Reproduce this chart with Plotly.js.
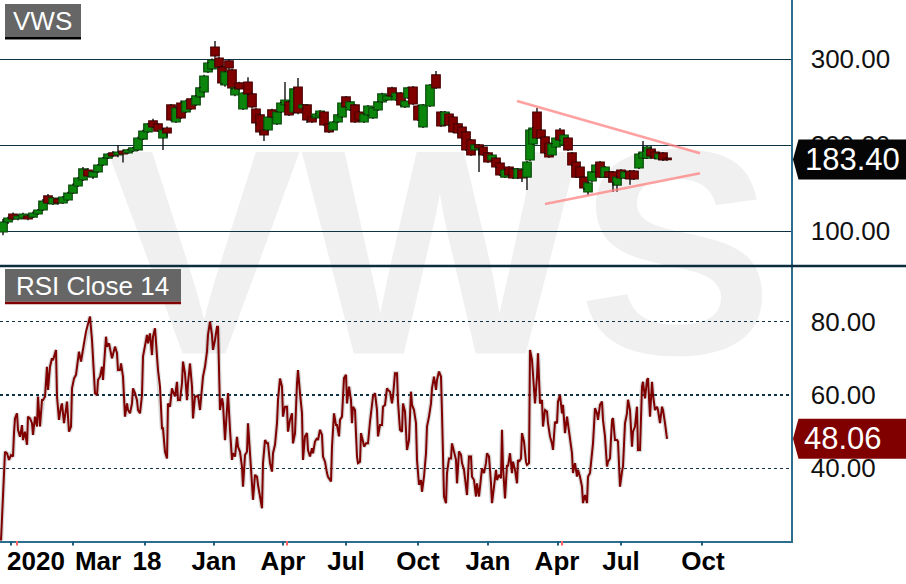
<!DOCTYPE html>
<html>
<head>
<meta charset="utf-8">
<script src="https://cdn.plot.ly/plotly-3.0.1.min.js"></script>
<style>html,body{margin:0;padding:0;background:#fff;}#chart{width:906px;height:584px;}</style>
</head>
<body>
<div id="chart"></div>
<script>
// ---- Data (x = trading-day index from start of chart) ----
const candleDay = [3,8,13,18,23,28,33,38,43,48,53,58,63,68,73,78,83,88,93,98,103,108,113,118,123,128,133,138,143,148,153,158,163,167,171,176,181,186,191,196,200,204,208,212,215,219,222,225,229,232,235,239,243,248,252,256,260,264,268,272,277,281,285,289,294,298,303,307,312,316,320,324,329,333,338,342,346,350,355,359,364,368,373,378,382,387,392,396,401,405,408,413,418,423,430,436,441,445,449,453,458,462,466,471,475,479,483,488,492,496,500,505,509,513,518,522,527,530,533,537,541,545,549,552,556,560,564,568,572,576,580,584,588,592,596,600,605,609,613,617,621,625,630,634,639,643,647,651,655,659,663,667];
const candleOpen = [99.2,110.8,120.1,114.3,115.5,117.8,116.6,120.1,124.8,141.1,131.8,137.6,132.9,136.4,144.5,152.7,159.7,171.3,163.1,169,177.1,185.2,191.1,188.7,193.4,191.1,193.4,194.6,207.3,215.5,228.3,224.8,208.5,220.1,246.9,227.1,249.2,238.7,253.9,246.9,256.2,262,285.3,288.8,314.3,301.5,291.1,270.1,298.1,287.6,258.5,272.5,242.2,273.6,259.7,242.2,235.3,217.8,217.8,241.1,224.8,238.7,246.9,250.4,238.7,267.8,243.4,246.9,232.9,231.8,234.1,238.7,224.8,217.8,227.1,232.9,256.2,241.1,246.9,238.7,227.1,235.3,231.8,241.1,250.4,252.7,266.7,252.7,260.8,244.6,255,267.8,245.7,221.3,245.7,281.8,238.7,223.6,236.4,232.9,224.8,221.3,215.5,206.2,194.6,200.4,198,191.1,182.9,185.2,179.4,163.1,174.8,172.5,162,171.3,163.1,182.9,201.5,238.7,217.8,209.7,202.7,188.7,198,217.8,200.4,208.5,191.1,180.6,174.8,163.1,145.7,158.5,169,180.6,163.1,169,169,153.8,171.3,162,170.1,170.1,173.6,185.2,185.2,195.7,192.2,184.1,191.1,185.2];
const candleHigh = [114.3,117,122,119,121.5,119.5,123,126,137.5,143.4,140,139,141.1,146,155.5,163.1,174.8,173.6,170.1,178.3,186.4,191.1,193.4,200.4,195,196,198,210,218,226,231,226,220,222,248,245,252,253,255,258.5,268,282,297,301,321.3,303,293,287,300,289,268,274,262,279,261,243.5,237,219,234,242.5,240,250.4,273.6,252,267,278.3,248,248,234,237.6,241.1,240,226,228.3,236.4,250.4,257.4,251.5,248,240,237.6,247,244.6,251.5,261,258.5,268,262,262,252.7,268,269,247,248,271.3,286.5,240,240,237.6,234,226,222.4,216.6,207.3,201.5,201.5,199.2,192.2,189.9,186.4,180.6,172.5,176,173.6,173.6,172.5,181.8,219,221.3,243.4,219,211,204,202.7,209.7,220.1,213.2,209.7,192.2,181.8,176,164.3,157.3,170.1,178.3,181.8,176,170.1,170.1,164.3,172.5,170.1,171.3,171.3,191.1,205,199.2,199,194,192,192.2,186.4];
const candleLow = [95.5,108.5,113,113,114.5,113,115.5,119,123.5,131.8,130.6,131,131.8,135.2,143.4,151.5,158.5,163.1,160.8,167.8,176,184.1,186.4,186,180,189.9,192.2,193.4,206.2,214.3,220.1,215.5,194.6,210,228,226,230.6,237.6,241.1,245.7,255,260.8,284,287.6,302,289.9,271,268,288,265,257,264,241,258,243,224,214,205,216,231.8,223.6,237.6,245.7,234,237,236,242.2,226,225.9,230.6,233,222.4,214.3,216.6,226,231.8,243.4,240,226,228.3,226,234.1,230.6,240,249.2,251.5,256.2,251.5,245.7,243.4,253.9,246.9,228.3,220.1,244.6,265.5,221.3,222.4,222.4,214.3,213.2,207.3,193.4,187.6,193.4,169,187.6,179.4,181.8,173.6,164.3,162,164.3,160.8,160.8,157.3,148,181.8,200.4,207.3,207.3,190,185.2,187.6,196.9,205,199.2,193.4,176,162,162,148,142,157.3,167.8,162,162,162,145.7,146,160.8,160.8,154,159.7,172.5,184,184.1,186.4,184.1,183,181.8,182];
const candleClose = [110.8,115.5,114.3,117.8,120.1,114.3,121.3,124.8,135.2,132.9,138.7,132.9,139.9,144.5,153.8,162,172.5,164.3,169,177.1,185.2,189.9,187.6,192.2,189.9,194.6,196.9,208.5,216.6,224.8,221.3,216.6,217.8,214.3,229.4,243.4,231.8,251.5,242.2,257.4,266.7,280.6,295.7,299.2,303.9,291.1,272.5,285.3,289.9,266.7,266.7,265.5,260.8,259.7,244.6,226,215.5,212,232.9,232.9,238.7,249.2,252.7,235.3,265.5,237.6,246.9,229.4,227.1,236.4,239.9,223.6,215.5,227.1,235.3,249.2,244.6,250.4,227.1,229.4,236.4,245.7,243.4,250.4,259.7,257.4,257.4,260.8,246.9,251.5,266.7,248,229.4,246.9,270.1,266.7,222.5,238.7,223.6,215.5,214.3,208.5,194.6,188.7,200.4,196.9,188.7,180.6,188.7,174.8,165.5,171.3,165.5,162,172.5,162,180.6,217.8,220.1,208.5,208.5,191.1,186.4,201.5,208.5,206.2,212,194.6,177.1,163.1,163.1,150.4,156.2,169,177.1,163.1,174.8,163.1,157.3,163.1,162,169,160.8,160.8,189.9,192.2,198,187.6,185.2,189.9,182.9,183.4];

const rsiDay = [1,2,3,5,7,9,11,13,14,15,17,18,20,22,23,25,27,28,30,32,33,35,37,38,40,42,43,45,47,48,50,52,53,56,57,59,61,62,64,66,67,69,71,72,74,76,78,79,81,83,84,86,88,90,92,93,95,97,98,100,102,103,106,107,109,112,113,115,117,118,120,121,123,124,125,127,128,130,132,133,135,137,138,140,142,143,145,147,148,150,152,153,155,157,158,160,162,163,165,167,168,170,172,173,175,177,178,180,182,183,185,187,188,190,192,193,195,197,198,200,202,203,205,207,208,210,212,213,215,217,218,220,222,223,225,227,228,230,232,233,235,237,238,240,242,243,245,247,248,250,252,253,255,257,258,260,262,263,265,267,268,270,272,273,275,277,278,280,282,283,285,287,288,290,292,293,295,297,298,300,302,303,305,307,308,310,312,313,315,317,318,320,322,323,325,327,328,331,332,334,336,337,339,340,342,344,346,347,349,351,352,353,355,357,358,360,361,363,364,366,368,370,372,373,375,377,378,380,382,383,385,387,388,390,392,393,395,397,398,400,402,403,405,406,407,409,411,412,414,416,417,419,421,422,424,426,427,429,431,432,434,436,437,439,441,442,444,446,447,449,451,452,454,456,457,459,461,462,464,466,467,469,471,472,474,476,477,479,481,482,484,486,487,489,491,492,494,496,497,499,501,502,503,505,507,508,510,512,513,515,517,518,519,521,522,524,526,527,529,530,532,533,535,537,538,540,542,543,545,547,548,550,552,553,555,557,558,560,562,563,565,567,568,570,572,573,575,577,578,580,582,583,585,587,588,590,592,593,595,597,598,600,602,603,605,607,608,610,612,613,615,617,618,620,622,623,625,627,628,630,632,633,635,637,638,640,642,643,645,647,648,650,652,653,655,657,658,660,662,663,665,667];
const rsiValue = [20.3,26.4,30.5,44.5,44.1,42.3,43.6,43.2,49.6,53.6,55,50.5,48.6,51.8,47.7,50,46.4,54.1,53.6,52.3,49.1,54.1,51.4,59.6,51.4,58.6,58.6,59.6,67.7,61.4,67.7,70,69.5,72.3,59.6,53.2,56.8,57.7,52.3,55.5,58.2,50,51.4,61.8,64.5,65.5,69.1,71.8,69.1,71.8,74.1,77.3,79.6,81.4,75,68.6,60.5,60,64.1,65,67.7,64.1,75.9,73.2,74.1,70,71.4,73.2,71.4,66.8,66.8,68.6,65,59.6,54.1,57.7,55.9,55,57.7,61.8,60.5,58.6,55.9,55,60,70.5,73.2,76.4,74.1,76.8,70.9,75.9,78.2,70,66.8,62.3,50.9,50.9,44.5,42.7,57.7,56.8,61.8,60.9,59.6,63.6,58.6,58.6,63.2,69.1,65.9,58.6,63.2,68.6,62.3,53.6,59.6,59.6,60,55.9,61.8,65,67.7,71.8,76.4,80,76.4,72.3,75,78.6,78.6,55.9,59.1,57.7,47.7,55.9,60.5,50.5,42.3,44.1,43.2,48.6,45.9,44.5,40.4,35,43.6,44.5,52.3,44.1,36.8,31.4,38.2,37.7,35.5,32.3,29.1,41.4,47.7,46.8,46.8,41.4,39.1,44.1,46.4,52.3,58.6,64.5,62.3,54.1,56.8,56.8,50,53.2,55,46.8,49.5,63.2,66.8,60.5,55,42.3,48.7,49.6,45,43.2,45.5,44.1,47.3,48.2,47.7,50.5,49.1,43.2,41.8,38.7,37.7,36.4,45.9,55,51.8,51.8,48.7,53.2,54.1,64.6,65.5,57.7,62.3,58.6,52.3,56.8,55.9,43.2,41.4,41.8,49.6,47.3,45.9,46.8,46.8,52.7,57.3,59.6,60.5,55.9,48.7,51.8,51.8,56.8,57.3,61.8,61.4,60.9,57.7,59.6,65.9,65.9,58.2,50.5,50,57.7,55.5,50,45,47.7,60.9,57.3,55.9,52.3,42.3,35.5,36.8,33.6,37.7,44.1,51.4,54.1,57.7,61.8,65,61.4,64.1,66.4,65,55,32.3,30.5,38.7,42.7,42.7,46.8,44.1,42.3,35.9,44.6,43.7,41.4,39.6,35.9,32.7,43.2,43.2,37.7,36.8,32.3,35.9,32.3,37.7,40,38.7,41.4,44.1,43.2,35.9,30.5,35,39.6,36.8,38.2,37.3,50.5,40.5,31.8,40.9,40.5,44.1,38.7,41.8,39.6,35.9,42.3,41.8,42.7,49.6,47.3,41.8,40.9,41.4,72.3,69.6,65.5,57.7,65,71.4,57.7,58.6,51.4,55.9,55.5,52.3,48.7,46.8,45,52.7,52.3,58.2,60,55,57.3,49.6,54.1,52.3,48.7,44.1,38.7,41.4,37.7,39.6,37.7,35,30.5,32.7,30.5,37.7,38.7,44.1,46.8,56.4,55,53.2,57.3,58.2,53.2,48.7,40.5,41.8,42.7,53.2,53.7,47.7,47.7,47.3,35,39.1,40.5,52.3,55,58.7,55.9,45.9,50,51.4,56.8,45,45,62.3,63.6,59.1,64.1,64.6,54.1,63.6,60,55.9,56.8,55.9,52.3,56.8,55.9,52.3,48.06];

const priceTicks = [100, 200, 300];
const rsiTicks = [40, 60, 80];
const axisTickDays = [11, 73, 145, 214, 283, 346, 418, 488, 558, 621, 702];
const axisLabelDays = [36, 98, 147, 214, 283, 346, 418, 488, 557, 621, 703];
const axisLabels = ['2020', 'Mar', '18', 'Jan', 'Apr', 'Jul', 'Oct', 'Jan', 'Apr', 'Jul', 'Oct'];
const eventDays = [17, 287, 562];
const trendUpperDays = [517, 700], trendUpperValues = [251.5, 190.7];
const trendLowerDays = [545, 700], trendLowerValues = [131.8, 167.5];

// ---- Styling / geometry ----
const FONT = 'Liberation Sans, Arial, Helvetica, sans-serif';
const PLOT_W = 791, PLOT_H = 541;
const priceRange = [59.65, 368.95];
const rsiRange = [20.16, 94.93];
const priceDomain = [0.5083, 1];
const rsiDomain = [0, 0.5065];
const pricePanelPx = (priceDomain[1] - priceDomain[0]) * PLOT_H;
const rsiPanelPx = (rsiDomain[1] - rsiDomain[0]) * PLOT_H;
const px2x = p => p / PLOT_W;
const py2y = p => (PLOT_H - p) / PLOT_H;

const UP_FILL = '#0b850b', UP_LINE = '#0a4a0a';
const DN_FILL = '#800000', DN_LINE = '#4a0000';

// candle bodies
const bodyBase = [], bodyLen = [], bodyFill = [], bodyLine = [];
const wickX = [], wickY = [];
for (let i = 0; i < candleDay.length; i++) {
  const o = candleOpen[i], c = candleClose[i], h = candleHigh[i], l = candleLow[i];
  const top = Math.max(o, c), bot = Math.min(o, c);
  bodyBase.push(bot);
  bodyLen.push(Math.max(top - bot, 0.8));
  const up = c >= o;
  bodyFill.push(up ? UP_FILL : DN_FILL);
  bodyLine.push(up ? UP_LINE : DN_LINE);
  if (h > top) { wickX.push(candleDay[i], candleDay[i], null); wickY.push(h, top, null); }
  if (l < bot) { wickX.push(candleDay[i], candleDay[i], null); wickY.push(bot, l, null); }
}

const traces = [
  { // watermark
    type: 'scatter', mode: 'text', xaxis: 'x', yaxis: 'y',
    x: [0.556], y: [0.482], text: ['VWS'], textposition: 'middle center',
    textfont: { family: FONT, size: 293, color: '#f0f0f0', weight: 'bold' },
    cliponaxis: false, hoverinfo: 'skip'
  },
  {
    type: 'scatter', mode: 'lines', xaxis: 'x2', yaxis: 'y2',
    x: wickX, y: wickY, line: { color: '#111', width: 1.4 }, hoverinfo: 'skip', connectgaps: false
  },
  {
    type: 'bar', xaxis: 'x2', yaxis: 'y2',
    x: candleDay, base: bodyBase, y: bodyLen, width: 8.5,
    marker: { color: bodyFill, line: { color: bodyLine, width: 1.2 } }, hoverinfo: 'skip'
  },
  {
    type: 'scatter', mode: 'lines', xaxis: 'x2', yaxis: 'y3',
    x: rsiDay, y: rsiValue, line: { color: 'rgba(110,110,110,0.28)', width: 4.5 }, hoverinfo: 'skip'
  },
  {
    type: 'scatter', mode: 'lines', xaxis: 'x2', yaxis: 'y3',
    x: rsiDay, y: rsiValue, line: { color: '#800000', width: 2 }, hoverinfo: 'skip'
  }
];

const lastClose = candleClose[candleClose.length - 1];
const lastRsi = rsiValue[rsiValue.length - 1];
const priceHalf = 20 * (priceRange[1] - priceRange[0]) / pricePanelPx;
const rsiHalf = 20 * (rsiRange[1] - rsiRange[0]) / rsiPanelPx;
const badge = (yc, h) => `M 1.0025,${yc} L 1.0095,${yc + h} L 1.2,${yc + h} L 1.2,${yc - h} L 1.0095,${yc - h} Z`;

const shapes = [];
// trend lines
shapes.push({ type: 'line', xref: 'x2', yref: 'y2', x0: trendUpperDays[0], y0: trendUpperValues[0], x1: trendUpperDays[1], y1: trendUpperValues[1], line: { color: 'rgba(255,130,130,0.75)', width: 2.5 } });
shapes.push({ type: 'line', xref: 'x2', yref: 'y2', x0: trendLowerDays[0], y0: trendLowerValues[0], x1: trendLowerDays[1], y1: trendLowerValues[1], line: { color: 'rgba(255,130,130,0.75)', width: 2.5 } });
// separator
shapes.push({ type: 'line', xref: 'paper', yref: 'paper', x0: 0, x1: 906 / PLOT_W, y0: py2y(266), y1: py2y(266), line: { color: '#0b2d3d', width: 2.5 } });
// x tick marks
axisTickDays.forEach(d => shapes.push({ type: 'line', xref: 'x2', yref: 'paper', x0: d, x1: d, y0: 0, y1: -4.5 / PLOT_H, line: { color: '#1f5f7f', width: 2 } }));
eventDays.forEach(d => shapes.push({ type: 'line', xref: 'x2', yref: 'paper', x0: d, x1: d, y0: 0, y1: -4.5 / PLOT_H, line: { color: '#ff6060', width: 2 } }));
// title boxes
shapes.push({ type: 'rect', xref: 'paper', yref: 'paper', x0: px2x(5), x1: px2x(81), y0: py2y(37), y1: py2y(4), fillcolor: '#666666', line: { width: 0 } });
shapes.push({ type: 'rect', xref: 'paper', yref: 'paper', x0: px2x(5), x1: px2x(81), y0: py2y(39.5), y1: py2y(37), fillcolor: '#000000', line: { width: 0 } });
shapes.push({ type: 'rect', xref: 'paper', yref: 'paper', x0: px2x(5), x1: px2x(181), y0: py2y(301.7), y1: py2y(269), fillcolor: '#666666', line: { width: 0 } });
shapes.push({ type: 'rect', xref: 'paper', yref: 'paper', x0: px2x(5), x1: px2x(181), y0: py2y(304.3), y1: py2y(301.7), fillcolor: '#800000', line: { width: 0 } });
// value badges
shapes.push({ type: 'path', xref: 'paper', yref: 'y2', path: badge(lastClose, priceHalf), fillcolor: '#050505', line: { width: 0 } });
shapes.push({ type: 'path', xref: 'paper', yref: 'y3', path: badge(lastRsi, rsiHalf), fillcolor: '#800000', line: { width: 0 } });

const annotations = [
  { xref: 'paper', yref: 'paper', x: px2x(42.5), y: py2y(21), text: 'VWS', showarrow: false, xanchor: 'center', yanchor: 'middle', font: { family: FONT, size: 26, color: '#ffffff' } },
  { xref: 'paper', yref: 'paper', x: px2x(92), y: py2y(286), text: 'RSI Close 14', showarrow: false, xanchor: 'center', yanchor: 'middle', font: { family: FONT, size: 26, color: '#ffffff' } },
  { xref: 'paper', yref: 'y2', x: px2x(852), y: lastClose, text: lastClose.toFixed(2), showarrow: false, xanchor: 'center', yanchor: 'middle', font: { family: FONT, size: 31, color: '#ffffff' } },
  { xref: 'paper', yref: 'y3', x: px2x(842.5), y: lastRsi, text: lastRsi.toFixed(2), showarrow: false, xanchor: 'center', yanchor: 'middle', font: { family: FONT, size: 31, color: '#ffffff' } }
];

const yTickFont = { family: FONT, size: 26, color: '#111' };
const layout = {
  width: 906, height: 584,
  margin: { l: 0, r: 115, t: 0, b: 43, pad: 0 },
  paper_bgcolor: '#ffffff', plot_bgcolor: 'rgba(0,0,0,0)',
  showlegend: false, bargap: 0,
  xaxis: { domain: [0, 1], range: [0, 1], visible: false, fixedrange: true },
  yaxis: { domain: [0, 1], range: [0, 1], visible: false, fixedrange: true },
  xaxis2: {
    anchor: 'y3', domain: [0, 1], range: [0, PLOT_W],
    tickmode: 'array', tickvals: axisLabelDays, ticktext: axisLabels, ticks: '',
    showgrid: false, zeroline: false, showline: true, linecolor: '#2d6e8e', linewidth: 1.5,
    tickfont: { family: FONT, size: 26, color: '#000', weight: 'bold' }, ticklabelstandoff: -4
  },
  yaxis2: {
    anchor: 'x2', domain: priceDomain, range: priceRange, side: 'right',
    tickmode: 'array', tickvals: priceTicks, tickformat: '.2f', ticks: '',
    showgrid: true, gridcolor: '#0d3345', gridwidth: 1.3, zeroline: false,
    showline: true, linecolor: '#2d6e8e', linewidth: 1.5,
    tickfont: yTickFont, ticklabelstandoff: 13
  },
  yaxis3: {
    anchor: 'x2', domain: rsiDomain, range: rsiRange, side: 'right',
    tickmode: 'array', tickvals: rsiTicks, tickformat: '.2f', ticks: '',
    showgrid: true, gridcolor: '#0d3345', gridwidth: 1.5, griddash: 'dot', zeroline: false,
    showline: true, linecolor: '#2d6e8e', linewidth: 1.5,
    tickfont: yTickFont, ticklabelstandoff: 13
  },
  shapes: shapes,
  annotations: annotations
};

Plotly.newPlot('chart', traces, layout, { staticPlot: true, displayModeBar: false });
</script>
</body>
</html>
